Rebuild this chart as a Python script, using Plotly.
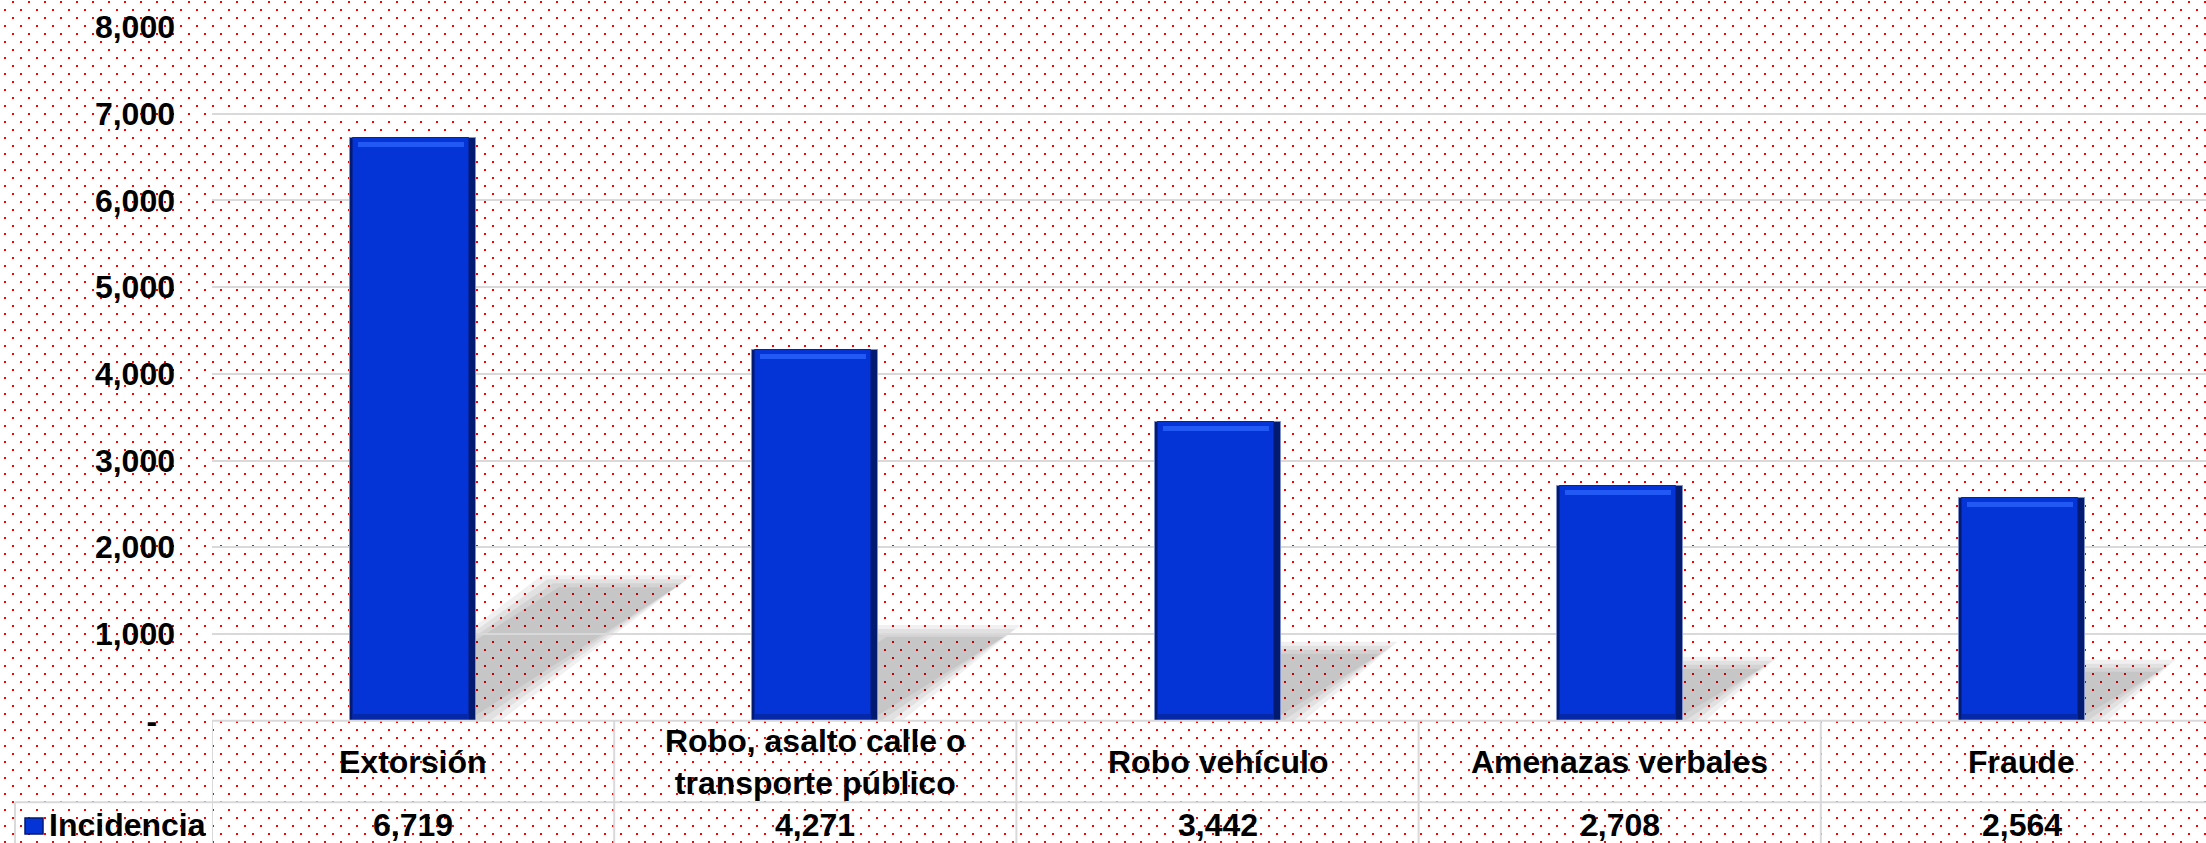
import base64
import plotly.graph_objects as go

# datos de la grafica
categories = ["Extorsión", "Robo, asalto calle o<br>transporte público", "Robo vehículo",
              "Amenazas verbales", "Fraude"]
values = [6719, 4271, 3442, 2708, 2564]
series_name = "Incidencia"
y_ticks = [0, 1000, 2000, 3000, 4000, 5000, 6000, 7000, 8000]
y_tick_labels = ["-\u00a0\u00a0", "1,000", "2,000", "3,000", "4,000", "5,000", "6,000", "7,000", "8,000"]

W, H = 2206, 843
FONT = "Liberation Sans, Arial, sans-serif"
PLOT_L, PLOT_TOP, PLOT_BOTTOM = 212, 27, 720.7
PX_CAT = 402.2                                  # pixeles por categoria
PX_UNIT = (PLOT_BOTTOM - PLOT_TOP) / 8000       # pixeles por unidad en y
BAR_W = 126 / PX_CAT
GRID = "#d9d9d9"
BLUE = "#0434d6"

x = list(range(len(categories)))
x_max = -0.5 + (W - PLOT_L) / PX_CAT


def px(p):
    return p / W


def py(p):
    return 1 - p / H


# fondo punteado rojo (patron tipo Excel)
svg = (f'<svg xmlns="http://www.w3.org/2000/svg" width="{W}" height="{H}">'
       '<defs><pattern id="d" width="16" height="16" patternUnits="userSpaceOnUse">'
       '<rect x="12" y="1" width="2" height="2" fill="#ff0000"/>'
       '<rect x="4" y="9" width="2" height="2" fill="#ff0000"/>'
       '</pattern></defs>'
       f'<rect width="{W}" height="{H}" fill="#ffffff"/>'
       f'<rect width="{W}" height="{H}" fill="url(#d)"/></svg>')
bg_src = "data:image/svg+xml;base64," + base64.b64encode(svg.encode()).decode()

fig = go.Figure()

# barras con bisel: borde oscuro, cara, brillo superior y sombra inferior
fig.add_trace(go.Bar(x=x, y=values, width=BAR_W, marker=dict(color="#021a70", line=dict(color="#8090c8", width=1)),
                     hoverinfo="skip"))
face_off = -BAR_W / 2 + 3 / PX_CAT
face_w = BAR_W - 10 / PX_CAT
fig.add_trace(go.Bar(x=x, y=values, width=face_w, offset=face_off, name=series_name,
                     marker=dict(color=BLUE, line=dict(color="#0325a0", width=1))))
fig.add_trace(go.Bar(x=x, y=[5 / PX_UNIT] * len(values), base=[v - 9 / PX_UNIT for v in values],
                     width=face_w - 10 / PX_CAT, offset=face_off + 5 / PX_CAT,
                     marker=dict(color="#2258f4", line=dict(width=0)), hoverinfo="skip"))
fig.add_trace(go.Bar(x=x, y=[7 / PX_UNIT] * len(values), base=[0] * len(values),
                     width=face_w, offset=face_off,
                     marker=dict(color="#0428a8", line=dict(width=0)), hoverinfo="skip"))

# sombras proyectadas (difuminadas con capas)
A = 0.0304 / PX_CAT
B = 0.0203 / PX_UNIT
shapes = []
for i, v in zip(x, values):
    xl, xr = i - BAR_W / 2, i + BAR_W / 2
    dx, dy = A * v, B * v
    for e in [9, 5, 1, -3]:
        ex = e * 1.4 / PX_CAT
        ey = e / PX_UNIT
        path = (f"M {xl - ex} {-ey} L {xr + ex} {-ey} L {xr + dx + ex} {dy + ey} "
                f"L {xl + dx - ex} {dy + ey} Z")
        shapes.append(dict(type="path", xref="x", yref="y", path=path, layer="below",
                           fillcolor="rgba(0,0,0,0.057)", line=dict(width=0)))

# tabla de datos
row1, row2 = PLOT_BOTTOM, 802.3
shapes.append(dict(type="line", xref="paper", yref="paper", x0=px(PLOT_L), x1=1, y0=py(row1), y1=py(row1),
                   line=dict(color=GRID, width=2)))
shapes.append(dict(type="line", xref="paper", yref="paper", x0=px(15), x1=1, y0=py(row2), y1=py(row2),
                   line=dict(color=GRID, width=2)))
shapes.append(dict(type="line", xref="paper", yref="paper", x0=px(15), x1=px(15), y0=py(row2), y1=0,
                   line=dict(color=GRID, width=2)))
for i in x:
    shapes.append(dict(type="line", xref="x", yref="paper", x0=i - 0.5, x1=i - 0.5, y0=py(row1), y1=0,
                       line=dict(color=GRID, width=2)))
# clave de la serie en la tabla
shapes.append(dict(type="rect", xref="paper", yref="paper", x0=px(25), x1=px(43), y0=py(834), y1=py(818),
                   fillcolor=BLUE, line=dict(color="#021a70", width=1.5)))

annotations = []
tfont = dict(family=FONT, size=32, color="black", weight="bold")
for i, c, v in zip(x, categories, values):
    annotations.append(dict(x=i, y=py(762), xref="x", yref="paper", text=c, showarrow=False,
                            font=tfont, xanchor="center", yanchor="middle", align="center"))
    annotations.append(dict(x=i, y=py(825), xref="x", yref="paper", text=f"{v:,}", showarrow=False,
                            font=tfont, xanchor="center", yanchor="middle"))
annotations.append(dict(x=px(47), y=py(825), xref="paper", yref="paper", text=series_name, showarrow=False,
                        font=tfont, xanchor="left", yanchor="middle"))

fig.update_layout(
    width=W, height=H,
    margin=dict(l=0, r=0, t=0, b=0, pad=0),
    paper_bgcolor="white", plot_bgcolor="rgba(0,0,0,0)",
    barmode="overlay", bargap=0,
    font=dict(family=FONT, color="black"),
    images=[dict(source=bg_src, xref="paper", yref="paper", x=0, y=1, sizex=1, sizey=1,
                 xanchor="left", yanchor="top", sizing="stretch", layer="below")],
    shapes=shapes, annotations=annotations,
    showlegend=False,
    xaxis=dict(domain=[px(PLOT_L), 1], range=[-0.5, x_max], showgrid=False, showticklabels=False,
               zeroline=False, showline=False, fixedrange=True),
    yaxis=dict(domain=[py(PLOT_BOTTOM), py(PLOT_TOP)], range=[0, 8000], tickvals=y_ticks,
               ticktext=y_tick_labels, showgrid=True, gridcolor=GRID, gridwidth=2, zeroline=False,
               showline=False, tickfont=tfont, ticklabelstandoff=36, automargin=False, fixedrange=True),
)

# sin margen del body para que la figura ocupe toda la ventana
fig.write_html("out.html", config={"displayModeBar": False},
               post_script="document.body.style.margin='0px';")
